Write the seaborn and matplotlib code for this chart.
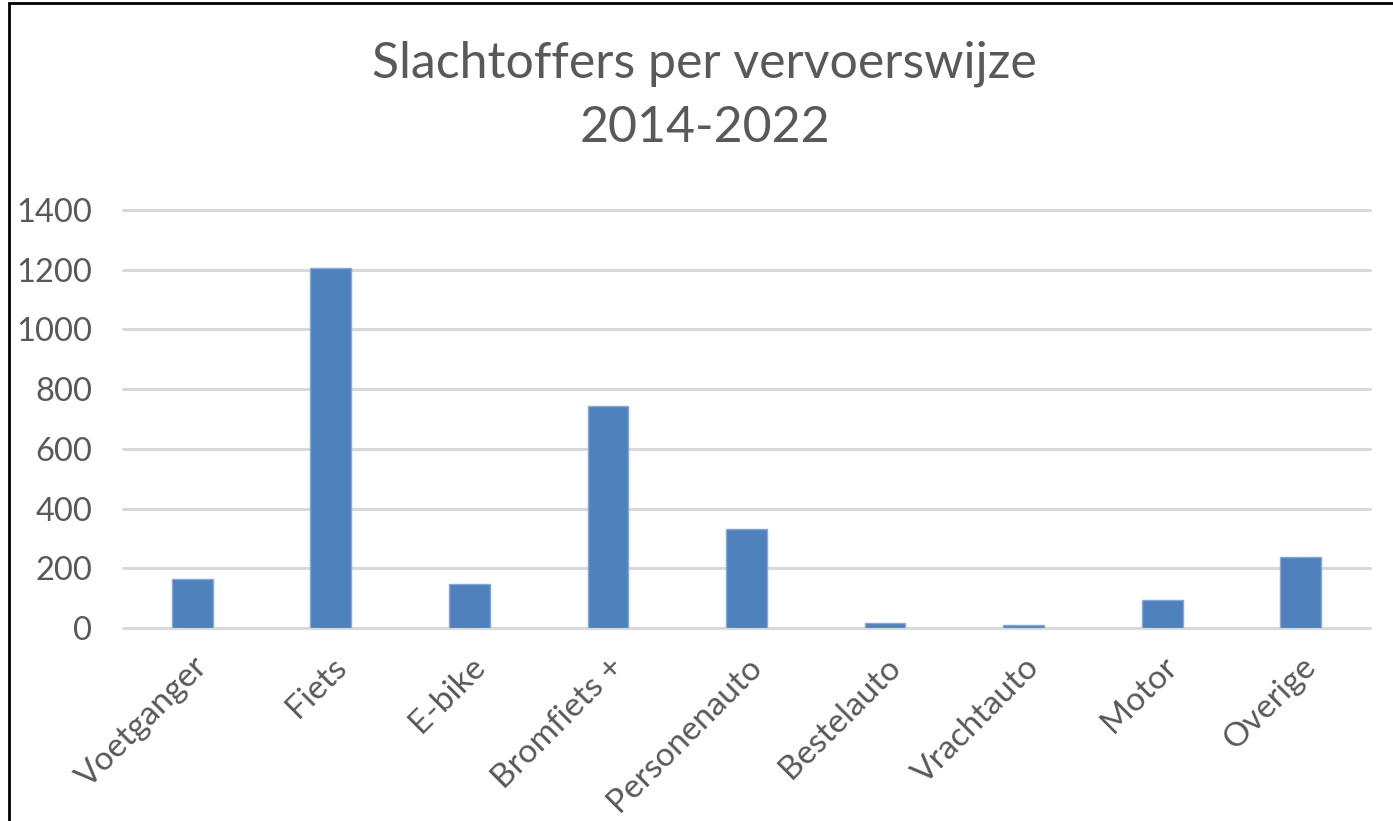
import matplotlib
matplotlib.use("Agg")
import matplotlib.pyplot as plt
import seaborn as sns
import pandas as pd
from matplotlib.patches import Rectangle

# data
categories = ["Voetganger", "Fiets", "E-bike", "Bromfiets +", "Personenauto",
              "Bestelauto", "Vrachtauto", "Motor", "Overige"]
victims = [165, 1206, 147, 743, 333, 16, 9, 93, 237]
y_ticks = [0, 200, 400, 600, 800, 1000, 1200, 1400]

df = pd.DataFrame({"vervoerswijze": categories, "slachtoffers": victims})

sns.set_theme(style="white")
plt.rcParams["font.family"] = ["Lato", "DejaVu Sans"]

text_col = "#595959"

fig = plt.figure(figsize=(13.93, 8.21), dpi=100)
ax = fig.add_axes([123 / 1393, 1 - 628 / 821, (1370 - 123) / 1393, (628 - 210) / 821])

sns.barplot(data=df, x="vervoerswijze", y="slachtoffers", color="#4F81BD",
            width=0.295, edgecolor="#86A8D6", linewidth=1, saturation=1, ax=ax)

ax.set_ylim(0, 1400)
ax.set_xlim(-0.5, len(categories) - 0.5)
ax.set_yticks(y_ticks)
ax.set_yticklabels([str(v) for v in y_ticks], fontsize=23.5, color=text_col)
ax.set_xticks(range(len(categories)))
ax.set_xticklabels(categories, rotation=45, ha="right", rotation_mode="anchor",
                   fontsize=24, color=text_col)
ax.tick_params(axis="x", length=0, pad=17)
ax.tick_params(axis="y", length=0, pad=22)
ax.set_xlabel("")
ax.set_ylabel("")

# horizontal gridlines
for v in y_ticks:
    ax.axhline(v, color="#D9D9D9", linewidth=2.2, zorder=0, clip_on=False)
for s in ax.spines.values():
    s.set_visible(False)

fig.text(0.506, 1 - 96 / 821, "Slachtoffers per vervoerswijze\n2014-2022",
         ha="center", va="center", fontsize=36, color=text_col, linespacing=1.5)

# outer frame (left and top visible)
fig.patches.append(Rectangle((9 / 1393, -0.1), 1.2, 1 - 3 / 821 + 0.1,
                             transform=fig.transFigure, fill=False,
                             edgecolor="black", linewidth=2))

fig.savefig("out.png", dpi=100)
